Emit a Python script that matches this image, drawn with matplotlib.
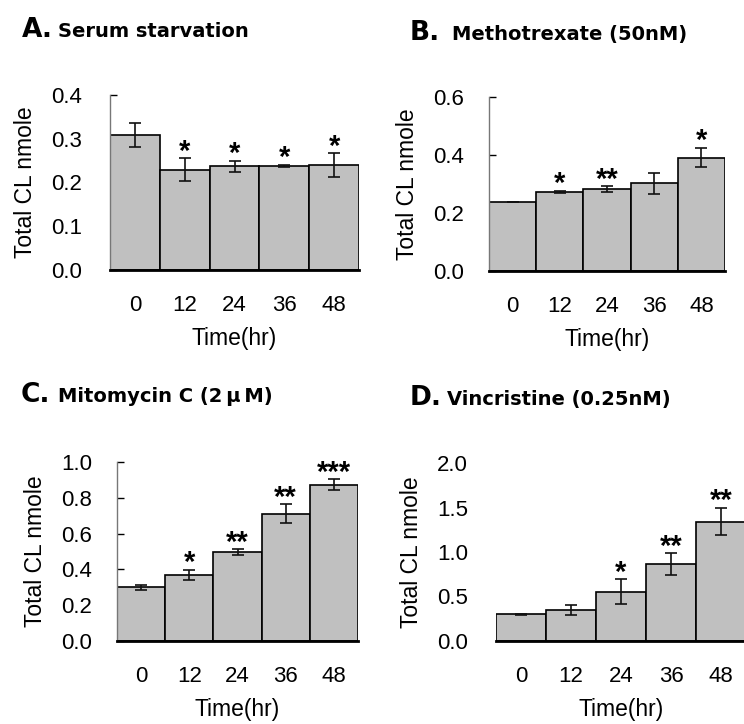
import matplotlib
matplotlib.use('Agg')
from matplotlib import pyplot as plt
import numpy as np

plt.rcParams['font.family'] = ['Liberation Sans', 'DejaVu Sans']

W, H = 744, 724

times = ['0', '12', '24', '36', '48']

# A. serum starvation
serum_vals = [0.309, 0.229, 0.237, 0.238, 0.240]
serum_err = [0.028, 0.026, 0.013, 0.002, 0.027]
serum_sig = ['', '*', '*', '*', '*']

# B. methotrexate
mtx_vals = [0.239, 0.273, 0.282, 0.302, 0.391]
mtx_err = [0.0, 0.003, 0.010, 0.036, 0.033]
mtx_sig = ['', '*', '**', '', '*']

# C. mitomycin C
mmc_vals = [0.299, 0.369, 0.496, 0.711, 0.873]
mmc_err = [0.013, 0.030, 0.017, 0.052, 0.030]
mmc_sig = ['', '*', '**', '**', '***']

# D. vincristine
vcr_vals = [0.300, 0.350, 0.556, 0.861, 1.342]
vcr_err = [0.005, 0.060, 0.140, 0.125, 0.155]
vcr_sig = ['', '', '*', '**', '**']


def px_rect(left, top, right, bottom):
    return [left / W, 1 - bottom / H, (right - left) / W, (bottom - top) / H]


def draw_panel(fig, rect, vals, errs, sigs, ymax, step, spine=True, pad=20):
    ax = fig.add_axes(rect)
    x = np.arange(len(vals))
    ax.bar(x, vals, width=1.0, color='#c0c0c0', edgecolor='black', linewidth=1.2, zorder=2)
    ax.errorbar(x, vals, yerr=errs, fmt='none', ecolor='#111111', elinewidth=1.2,
                capsize=4.5, capthick=1.2, zorder=3)
    for xi, v, e, s in zip(x, vals, errs, sigs):
        if s:
            ax.annotate(s, (xi, v + e), xytext=(0, -1), textcoords='offset points',
                        ha='center', va='baseline', fontsize=21, fontweight='bold')
    ax.set_xlim(-0.5, 4.5)
    ax.set_ylim(0, ymax)
    ticks = np.arange(0, ymax + step / 2, step)
    ax.set_yticks(ticks)
    ax.set_yticklabels(['%.1f' % t for t in ticks])
    ax.set_xticks(x)
    ax.set_xticklabels(times)
    ax.tick_params(axis='x', length=0, pad=18, labelsize=16)
    ax.tick_params(axis='y', direction='in', length=5, width=1, pad=pad, labelsize=16)
    ax.spines['top'].set_visible(False)
    ax.spines['right'].set_visible(False)
    ax.spines['bottom'].set_linewidth(2)
    if spine:
        ax.spines['left'].set_color('#777777')
        ax.spines['left'].set_linewidth(1)
    else:
        ax.spines['left'].set_visible(False)
    ax.set_xlabel('Time(hr)', fontsize=16.5, labelpad=8)
    ax.set_ylabel('Total CL nmole', fontsize=16.5, labelpad=10)
    ax.patch.set_visible(False)
    return ax


def title(fig, x_letter, x_text, y, letter, text):
    fig.text(x_letter / W, 1 - y / H, letter, fontsize=19, fontweight='bold',
             va='baseline', family='DejaVu Sans')
    fig.text(x_text / W, 1 - y / H, text, fontsize=14, fontweight='bold',
             va='baseline', family='DejaVu Sans')


fig = plt.figure(figsize=(W / 100, H / 100), dpi=100)

draw_panel(fig, px_rect(110, 95, 359, 270), serum_vals, serum_err, serum_sig, 0.4, 0.1, pad=20)
draw_panel(fig, px_rect(489, 97, 725, 271), mtx_vals, mtx_err, mtx_sig, 0.6, 0.2, pad=18)
draw_panel(fig, px_rect(117, 462, 358, 641), mmc_vals, mmc_err, mmc_sig, 1.0, 0.2, pad=18)
axd = draw_panel(fig, px_rect(496, 463, 746, 641), vcr_vals, vcr_err, vcr_sig, 2.0, 0.5,
                 spine=False, pad=20)
# only the 0.5 / 1.5 dashes are visible in D
axd.set_yticks([0.5, 1.5], minor=True)
axd.tick_params(axis='y', which='major', length=0)
axd.tick_params(axis='y', which='minor', direction='in', length=5, width=1)

title(fig, 22, 58, 37, 'A.', 'Serum starvation')
title(fig, 410, 452, 40, 'B.', 'Methotrexate (50nM)')
title(fig, 21, 58, 402, 'C.', 'Mitomycin C (2\u2009\u03bc\u2009M)')
title(fig, 410, 447, 405, 'D.', 'Vincristine (0.25nM)')

fig.savefig('out.png', dpi=100)
